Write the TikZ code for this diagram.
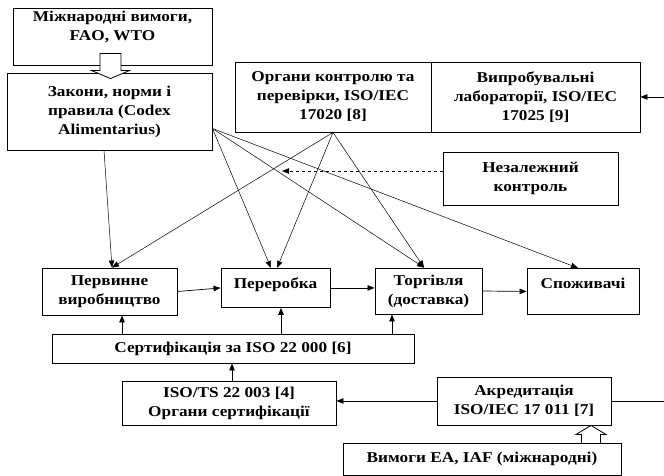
\documentclass[tikz,border=0pt]{standalone}
\usepackage{fontspec}
\setmainfont{Liberation Serif}[FakeStretch=1.15]
\usetikzlibrary{arrows.meta,calc}

\tikzset{
  blk/.style={draw, line width=0.9pt, align=center, inner sep=0pt,
    font=\fontsize{15}{19}\selectfont\bfseries},
  arr/.style={line width=0.7pt, -{Triangle[length=7pt,width=5.5pt]}},
  thinarr/.style={line width=0.5pt, -{Triangle[length=7pt,width=5.5pt]}}
}

\begin{document}
\begin{tikzpicture}[x=1pt,y=-1pt]
    \useasboundingbox (0,0) rectangle (664,476);

    % Draw the boxes
    \node[blk, minimum width=199, minimum height=57] (intl) at (112.5,36.5) {Міжнародні вимоги,\\FAO, WTO\\[3pt]};
    \node[blk, minimum width=205, minimum height=77] (zak) at (109.5,111.5) {Закони, норми і\\правила (Codex\\Alimentarius)};
    \node[blk, minimum width=196, minimum height=70] (insp) at (333,97) {Органи контролю та\\перевірки, ISO/IEC\\17020 [8]};
    \node[blk, minimum width=209, minimum height=70] (lab) at (535.5,97) {Випробувальні\\лабораторії, ISO/IEC\\17025 [9]};
    \node[blk, minimum width=175, minimum height=53] (indep) at (530.5,178.5) {Незалежний\\контроль};
    \node[blk, minimum width=135, minimum height=47] (prim) at (109.5,291.5) {Первинне\\виробництво};
    \node[blk, minimum width=109, text height=20pt, text depth=19pt, anchor=north] (proc) at (275.5,268) {Переробка};
    \node[blk, minimum width=107, minimum height=46] (trade) at (428.5,291) {Торгівля\\(доставка)};
    \node[blk, minimum width=112, text height=20pt, text depth=26pt, anchor=north] (cons) at (583,268) {Споживачі};
    \node[blk, minimum width=362, minimum height=29] (cert) at (233,348.5) {Сертифікація за ISO 22 000 [6]};
    \node[blk, minimum width=214, minimum height=44] (isots) at (229,403) {ISO/TS 22 003 [4]\\Органи сертифікації};
    \node[blk, minimum width=174, minimum height=48] (akr) at (524,401) {Акредитація\\ISO/IEC 17 011 [7]};
    \node[blk, minimum width=278, minimum height=32] (vym) at (482,459) {Вимоги EA, IAF (міжнародні)};

    % Draw the hollow arrows
    \coordinate (t1) at ([xshift=1pt,yshift=-6pt]zak.north);
    \draw[line width=0.8pt, fill=white] (t1) -- ++(-19,-8) -- ++(8.5,0) -- ++(0,-17) -- ++(21,0) -- ++(0,17) -- ++(8.5,0) -- cycle;
    \coordinate (t2) at ([xshift=67pt]akr.south);
    \draw[line width=0.8pt, fill=white] (t2) -- ++(-15,9) -- ++(5.5,0) -- ++(0,9) -- ++(19,0) -- ++(0,-9) -- ++(5.5,0) -- cycle;

    % Draw the lines from the right edge
    \coordinate (labin) at (664,97);
    \coordinate (akrout) at (664,401);
    \draw[arr] (labin) -- (lab.east);
    \draw[line width=0.7pt] (akr.east) -- (akrout);
    \draw[arr] (akr.west) -- (akr.west -| isots.east);

    % Draw the control lines
    \coordinate (zr) at ([yshift=-17pt]zak.east);
    \foreach \t/\s in {proc/-4.5, trade/-4.5, cons/-5}
        \draw[thinarr] (zr) -- ([xshift=\s pt]\t.north);
    \foreach \t/\s in {prim/2.5, proc/1.5, trade/-4.5}
        \draw[thinarr] (insp.south) -- ([xshift=\s pt]\t.north);
    \draw[thinarr] ([xshift=-5.5pt]zak.south) -- ([xshift=2.5pt]prim.north);
    \coordinate (dtip) at (282,171);
    \draw[thinarr, dashed] ([yshift=7.5pt]indep.west) -- (dtip);

    % Draw the chain
    \draw[arr] (prim.east) -- (proc.west);
    \draw[arr] (proc.east) -- (proc.east -| trade.west);
    \draw[arr] (trade.east) -- (cons.west);

    % Draw the certification arrows
    \coordinate (u1) at ([xshift=12.5pt]prim.south);
    \coordinate (u2) at ([xshift=5.5pt]proc.south);
    \coordinate (u3) at ([xshift=-36.5pt]trade.south);
    \foreach \u in {u1,u2,u3}
        \draw[arr] (\u |- cert.north) -- (\u);
    \coordinate (u4) at ([xshift=3pt]isots.north);
    \draw[arr] (u4) -- (u4 |- cert.south);
\end{tikzpicture}
\end{document}
